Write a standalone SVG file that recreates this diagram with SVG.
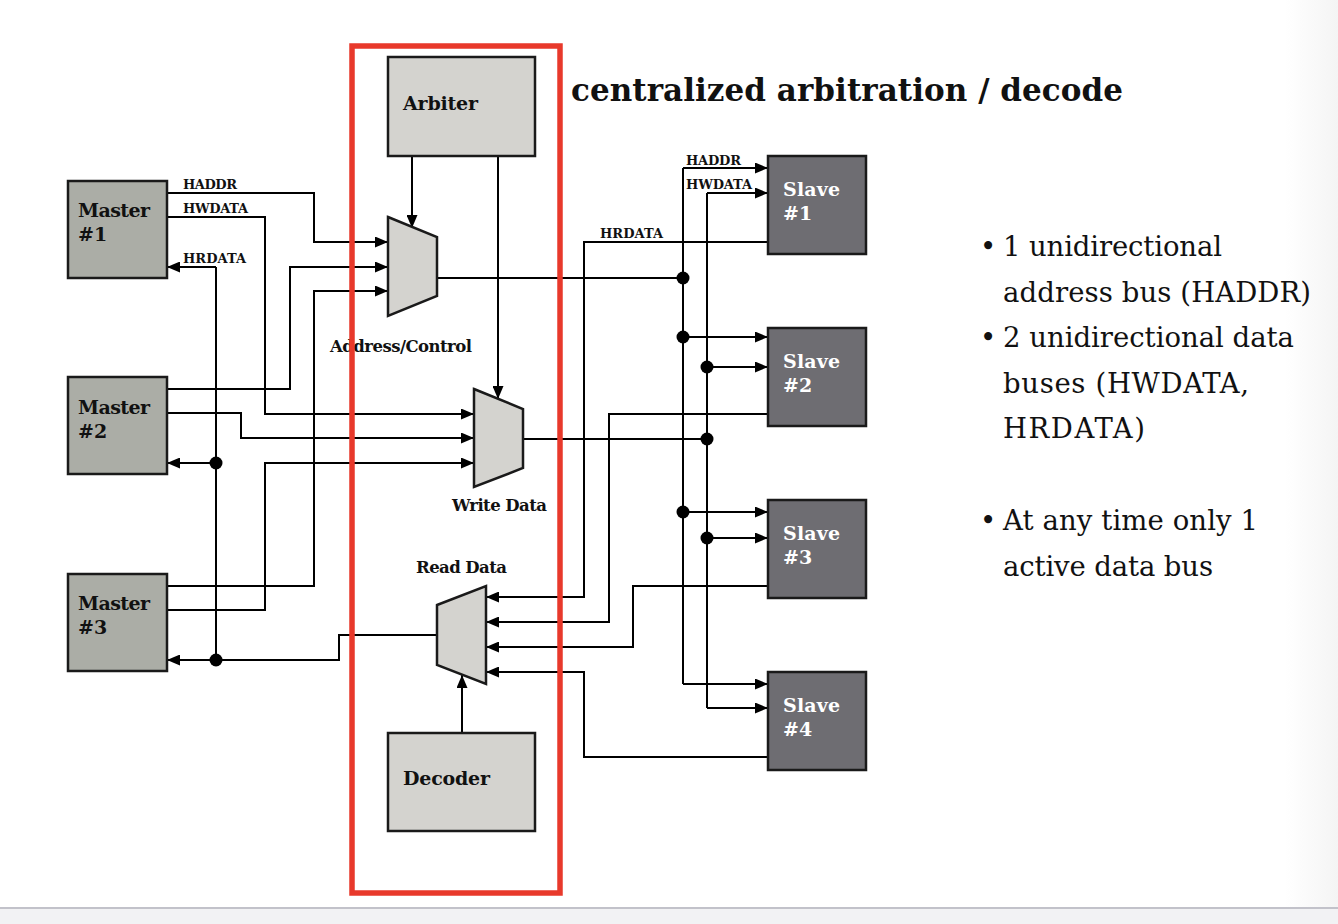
<svg xmlns="http://www.w3.org/2000/svg" width="1338" height="924" viewBox="0 0 1338 924">
<defs>
<marker id="arr" markerWidth="13" markerHeight="11" refX="13" refY="5.5" orient="auto" markerUnits="userSpaceOnUse"><path d="M0,0 L13,5.5 L0,11 z" fill="#000"/></marker>
<linearGradient id="edge" x1="0" y1="0" x2="1" y2="0"><stop offset="0" stop-color="#ffffff"/><stop offset="1" stop-color="#f4f4f4"/></linearGradient>
<style>
.w{fill:none;stroke:#000;stroke-width:2}
.a{fill:none;stroke:#000;stroke-width:2;marker-end:url(#arr)}
.dot{fill:#000}
.m{fill:#abada6;stroke:#1a1a1a;stroke-width:2.5}
.g{fill:#d4d3cf;stroke:#1a1a1a;stroke-width:2.5}
.s{fill:#6e6d72;stroke:#1a1a1a;stroke-width:2.5}
.t{font-family:"DejaVu Serif","Liberation Serif",serif;font-weight:bold;fill:#111}
.lb{font-size:19px}
.sm{font-size:13px}
.md{font-size:16.5px}
.wt{fill:#fff}
.b{font-family:"DejaVu Serif","Liberation Serif",serif;font-size:27.5px;fill:#111}
</style>
</defs>
<rect x="0" y="0" width="1338" height="924" fill="#fff"/>
<rect x="1285" y="0" width="53" height="908" fill="url(#edge)"/>
<rect x="0" y="908" width="1338" height="16" fill="#f2f2f4"/>
<line x1="0" y1="908" x2="1338" y2="908" stroke="#c2c2ca" stroke-width="2"/>

<g id="connectors">
<polyline class="a" points="167,193 314,193 314,242 388,242"/>
<polyline class="a" points="167,217 265,217 265,414 474,414"/>
<polyline class="a" points="167,389 290,389 290,267 388,267"/>
<polyline class="a" points="167,413 241,413 241,438 474,438"/>
<polyline class="a" points="167,586 314,586 314,291 388,291"/>
<polyline class="a" points="167,610 265,610 265,463 474,463"/>
<line class="w" x1="216" y1="267" x2="216" y2="660"/>
<polyline class="a" points="216,267 167,267"/>
<polyline class="a" points="216,463 167,463"/>
<polyline class="a" points="216,660 167,660"/>
<polyline class="w" points="216,660 339,660 339,635 437,635"/>
<polyline class="a" points="412,157 412,228"/>
<polyline class="a" points="498,157 498,399"/>
<polyline class="a" points="462,733 462,675"/>
<polyline class="w" points="437,278 683,278"/>
<polyline class="w" points="523,439 707,439"/>
<line class="w" x1="683" y1="168" x2="683" y2="684"/>
<polyline class="a" points="683,168 768,168"/>
<polyline class="a" points="683,337 768,337"/>
<polyline class="a" points="683,512 768,512"/>
<polyline class="a" points="683,684 768,684"/>
<line class="w" x1="707" y1="193" x2="707" y2="708"/>
<polyline class="a" points="707,193 768,193"/>
<polyline class="a" points="707,367 768,367"/>
<polyline class="a" points="707,538 768,538"/>
<polyline class="a" points="707,708 768,708"/>
<polyline class="a" points="768,242 584,242 584,597 486,597"/>
<polyline class="a" points="768,414 609,414 609,622 486,622"/>
<polyline class="a" points="768,586 633,586 633,647 486,647"/>
<polyline class="a" points="768,757 584,757 584,672 486,672"/>
<circle class="dot" cx="216" cy="463" r="6.5"/>
<circle class="dot" cx="216" cy="660" r="6.5"/>
<circle class="dot" cx="683" cy="278" r="6.5"/>
<circle class="dot" cx="683" cy="337" r="6.5"/>
<circle class="dot" cx="707" cy="367" r="6.5"/>
<circle class="dot" cx="707" cy="439" r="6.5"/>
<circle class="dot" cx="683" cy="512" r="6.5"/>
<circle class="dot" cx="707" cy="538" r="6.5"/>
<text class="t sm" x="183" y="189" textLength="54">HADDR</text>
<text class="t sm" x="183" y="213" textLength="65">HWDATA</text>
<text class="t sm" x="183" y="263" textLength="63">HRDATA</text>
<text class="t sm" x="686" y="165" textLength="55">HADDR</text>
<text class="t sm" x="686" y="189" textLength="66">HWDATA</text>
<text class="t sm" x="600" y="238" textLength="63">HRDATA</text>
</g>

<g id="master1"><rect class="m" x="68" y="181" width="99" height="97"/><text class="t lb" x="78" y="217" textLength="72">Master</text><text class="t lb" x="78" y="241">#1</text></g>
<g id="master2"><rect class="m" x="68" y="377" width="99" height="97"/><text class="t lb" x="78" y="414" textLength="72">Master</text><text class="t lb" x="78" y="438">#2</text></g>
<g id="master3"><rect class="m" x="68" y="574" width="99" height="97"/><text class="t lb" x="78" y="610" textLength="72">Master</text><text class="t lb" x="78" y="634">#3</text></g>

<g id="arbiter"><rect class="g" x="388" y="57" width="147" height="99"/><text class="t lb" x="403" y="110" textLength="75">Arbiter</text></g>
<g id="decoder"><rect class="g" x="388" y="733" width="147" height="98"/><text class="t lb" x="403" y="785" textLength="87">Decoder</text></g>

<g id="addr-mux"><polygon class="g" points="388,217 437,237 437,296 388,316"/><text class="t md" x="330" y="352" textLength="142">Address/Control</text></g>
<g id="write-mux"><polygon class="g" points="474,389 523,409 523,468 474,487"/><text class="t md" x="452" y="511" textLength="95">Write Data</text></g>
<g id="read-mux"><polygon class="g" points="437,605 486,586 486,684 437,665"/><text class="t md" x="416" y="573" textLength="91">Read Data</text></g>

<g id="slave1"><rect class="s" x="768" y="156" width="98" height="98"/><text class="t lb wt" x="783" y="196" textLength="57">Slave</text><text class="t lb wt" x="783" y="220">#1</text></g>
<g id="slave2"><rect class="s" x="768" y="328" width="98" height="98"/><text class="t lb wt" x="783" y="368" textLength="57">Slave</text><text class="t lb wt" x="783" y="392">#2</text></g>
<g id="slave3"><rect class="s" x="768" y="500" width="98" height="98"/><text class="t lb wt" x="783" y="540" textLength="57">Slave</text><text class="t lb wt" x="783" y="564">#3</text></g>
<g id="slave4"><rect class="s" x="768" y="672" width="98" height="98"/><text class="t lb wt" x="783" y="712" textLength="57">Slave</text><text class="t lb wt" x="783" y="736">#4</text></g>

<g id="highlight"><rect x="352" y="46" width="208" height="847" fill="none" stroke="#e8392b" stroke-width="5.5"/></g>

<g id="title"><text class="t" x="571" y="101" font-size="31" textLength="552">centralized arbitration / decode</text></g>

<g id="notes">
<text class="b" x="980" y="256">•</text><text class="b" x="1003" y="256" textLength="219">1 unidirectional</text>
<text class="b" x="1003" y="302" textLength="308">address bus (HADDR)</text>
<text class="b" x="980" y="347">•</text><text class="b" x="1003" y="347" textLength="291">2 unidirectional data</text>
<text class="b" x="1003" y="393" textLength="246">buses (HWDATA,</text>
<text class="b" x="1003" y="438" textLength="142">HRDATA)</text>
<text class="b" x="980" y="530">•</text><text class="b" x="1003" y="530" textLength="255">At any time only 1</text>
<text class="b" x="1003" y="576" textLength="210">active data bus</text>
</g>
</svg>
